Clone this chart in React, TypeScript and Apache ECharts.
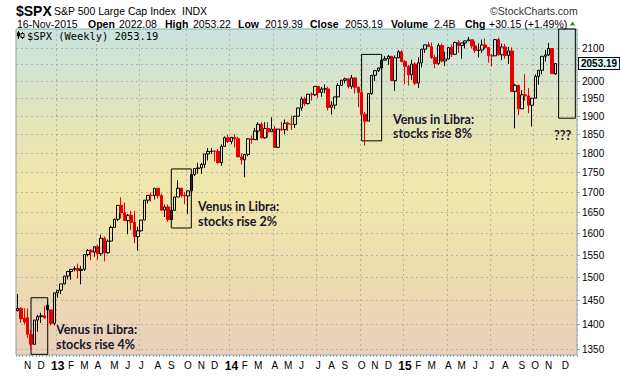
import React, { useEffect, useRef } from "react";
import * as echarts from "echarts";

const WEEKS: string[] = [
  "2012-10-15","2012-10-22","2012-10-29","2012-11-05","2012-11-12","2012-11-19","2012-11-26","2012-12-03","2012-12-10","2012-12-17","2012-12-24","2012-12-31",
  "2013-01-07","2013-01-14","2013-01-21","2013-01-28","2013-02-04","2013-02-11","2013-02-18","2013-02-25","2013-03-04","2013-03-11","2013-03-18","2013-03-25",
  "2013-04-01","2013-04-08","2013-04-15","2013-04-22","2013-04-29","2013-05-06","2013-05-13","2013-05-20","2013-05-27","2013-06-03","2013-06-10","2013-06-17",
  "2013-06-24","2013-07-01","2013-07-08","2013-07-15","2013-07-22","2013-07-29","2013-08-05","2013-08-12","2013-08-19","2013-08-26","2013-09-02","2013-09-09",
  "2013-09-16","2013-09-23","2013-09-30","2013-10-07","2013-10-14","2013-10-21","2013-10-28","2013-11-04","2013-11-11","2013-11-18","2013-11-25","2013-12-02",
  "2013-12-09","2013-12-16","2013-12-23","2013-12-30",
  "2014-01-06","2014-01-13","2014-01-20","2014-01-27","2014-02-03","2014-02-10","2014-02-17","2014-02-24","2014-03-03","2014-03-10","2014-03-17","2014-03-24",
  "2014-03-31","2014-04-07","2014-04-14","2014-04-21","2014-04-28","2014-05-05","2014-05-12","2014-05-19","2014-05-26","2014-06-02","2014-06-09","2014-06-16",
  "2014-06-23","2014-06-30","2014-07-07","2014-07-14","2014-07-21","2014-07-28","2014-08-04","2014-08-11","2014-08-18","2014-08-25","2014-09-01","2014-09-08",
  "2014-09-15","2014-09-22","2014-09-29","2014-10-06","2014-10-13","2014-10-20","2014-10-27","2014-11-03","2014-11-10","2014-11-17","2014-11-24","2014-12-01",
  "2014-12-08","2014-12-15","2014-12-22","2014-12-29",
  "2015-01-05","2015-01-12","2015-01-19","2015-01-26","2015-02-02","2015-02-09","2015-02-16","2015-02-23","2015-03-02","2015-03-09","2015-03-16","2015-03-23",
  "2015-03-30","2015-04-06","2015-04-13","2015-04-20","2015-04-27","2015-05-04","2015-05-11","2015-05-18","2015-05-25","2015-06-01","2015-06-08","2015-06-15",
  "2015-06-22","2015-06-29","2015-07-06","2015-07-13","2015-07-20","2015-07-27","2015-08-03","2015-08-10","2015-08-17","2015-08-24","2015-08-31","2015-09-07",
  "2015-09-14","2015-09-21","2015-09-28","2015-10-05","2015-10-12","2015-10-19","2015-10-26","2015-11-02","2015-11-09","2015-11-16",
  "2015-11-23","2015-11-30","2015-12-07","2015-12-14","2015-12-21","2015-12-28",
];

const OPEN: number[] = [
  1428.8,1433.7,1413.0,1414.0,1380.0,1359.9,1409.2,1416.3,1418.1,1440.0,1430.2,1402.4,
  1466.5,1472.1,1485.9,1503.0,1513.2,1517.9,1519.8,1515.6,1518.2,1551.2,1560.7,1556.9,
  1569.2,1553.3,1588.9,1555.3,1582.2,1614.4,1633.7,1667.5,1649.6,1630.7,1643.4,1626.7,
  1592.4,1606.3,1631.9,1680.2,1692.1,1691.7,1709.7,1691.4,1655.8,1663.5,1633.0,1655.2,
  1688.0,1709.9,1691.8,1690.5,1703.2,1744.5,1759.8,1761.6,1770.6,1798.2,1804.8,1806.0,
  1805.1,1775.3,1818.3,1841.4,
  1831.4,1842.4,1838.7,1790.3,1782.6,1797.0,1838.6,1836.3,1859.5,1878.0,1841.1,1866.5,
  1857.6,1865.1,1815.7,1864.9,1863.4,1881.1,1878.5,1877.9,1900.5,1923.6,1949.4,1936.2,
  1962.9,1961.0,1985.4,1967.6,1978.2,1978.3,1925.2,1931.6,1955.1,1988.4,2003.4,2007.7,
  1985.5,2010.4,1982.9,1967.9,1906.1,1886.8,1964.6,2018.1,2031.9,2039.8,2063.5,2067.6,
  2075.4,2002.3,2070.7,2088.8,
  2058.9,2044.8,2019.4,2051.8,1995.0,2055.5,2097.0,2110.3,2104.5,2071.3,2053.4,2108.1,
  2061.0,2067.0,2102.1,2081.2,2117.7,2108.3,2116.1,2122.7,2126.1,2107.4,2092.8,2094.1,
  2110.0,2101.5,2076.8,2076.6,2126.6,2079.7,2103.8,2077.6,2091.5,1970.9,1988.9,1921.2,
  1961.1,1958.0,1931.3,1951.4,2014.9,2033.1,2075.2,2079.4,2099.2,2022.08,
];

const HIGH: number[] = [
  1464.0,1435.5,1434.0,1433.4,1388.8,1409.2,1420.0,1424.4,1438.6,1448.0,1430.7,1466.5,
  1472.3,1486.0,1503.3,1514.4,1518.3,1524.7,1530.9,1525.8,1552.5,1563.6,1564.0,1570.3,
  1573.7,1597.4,1593.0,1585.9,1618.5,1635.0,1667.5,1687.2,1674.2,1646.5,1654.2,1654.2,
  1615.9,1632.1,1680.2,1693.1,1698.8,1709.7,1709.7,1696.8,1669.5,1669.5,1663.9,1689.0,
  1729.9,1711.3,1700.0,1704.0,1745.3,1759.8,1775.2,1774.5,1798.2,1813.6,1813.6,1806.5,
  1811.0,1823.8,1844.9,1849.4,
  1843.2,1850.8,1844.0,1800.0,1798.0,1840.0,1847.5,1867.9,1883.6,1883.6,1884.0,1884.0,
  1897.3,1873.0,1865.0,1884.9,1891.3,1885.1,1902.2,1901.3,1924.0,1955.6,1955.6,1963.9,
  1968.2,1985.6,1985.6,1983.9,1991.4,1984.6,1942.9,1955.2,1994.8,2005.0,2011.2,2008.0,
  2019.3,2010.7,1985.2,1977.4,1912.1,1965.0,2018.2,2034.3,2041.3,2071.5,2075.8,2079.5,
  2075.8,2077.9,2094.0,2093.6,
  2064.4,2049.3,2064.6,2057.6,2072.4,2097.0,2110.6,2119.6,2117.5,2079.5,2114.9,2114.9,
  2089.0,2102.6,2111.9,2120.9,2125.9,2117.0,2124.0,2134.7,2126.2,2121.9,2115.0,2126.6,
  2129.9,2103.0,2081.9,2129.0,2132.8,2114.2,2112.7,2103.6,2102.5,1993.5,1989.0,1975.0,
  2021.0,1980.8,1951.8,2020.9,2033.5,2075.2,2094.3,2116.5,2099.2,2053.22,
];

const LOW: number[] = [
  1427.2,1403.3,1400.0,1373.0,1350.0,1359.9,1385.4,1403.3,1411.9,1413.0,1398.1,1398.1,
  1456.1,1463.8,1485.0,1495.7,1495.0,1513.5,1497.3,1485.0,1514.6,1547.0,1538.6,1546.2,
  1539.5,1548.6,1536.0,1553.3,1581.3,1614.4,1629.3,1635.5,1630.0,1598.2,1608.1,1577.7,
  1560.3,1605.0,1631.9,1672.2,1676.0,1681.9,1684.9,1654.4,1639.2,1627.5,1633.0,1655.2,
  1688.0,1687.1,1670.4,1646.5,1692.1,1740.5,1746.2,1746.2,1761.6,1781.0,1798.0,1779.1,
  1772.3,1767.0,1818.3,1827.7,
  1823.7,1815.5,1790.3,1770.5,1737.9,1792.0,1825.0,1836.3,1834.4,1839.6,1839.0,1842.0,
  1857.6,1814.4,1814.0,1859.0,1850.6,1859.8,1862.4,1868.1,1900.5,1915.6,1929.7,1933.1,
  1944.7,1958.2,1952.9,1955.6,1965.8,1916.4,1904.8,1920.1,1955.1,1988.4,1994.3,1979.8,
  1978.5,1965.0,1926.0,1906.1,1820.7,1886.8,1961.3,2001.0,2028.0,2034.0,2063.0,2049.6,
  2002.3,1972.6,2069.2,2057.9,
  1992.4,1988.1,2004.5,1989.2,1980.9,2041.6,2085.4,2103.8,2067.2,2039.7,2049.0,2055.8,
  2045.8,2066.0,2073.0,2081.2,2085.7,2067.9,2099.2,2122.0,2099.2,2085.7,2072.1,2085.7,
  2097.0,2056.2,2044.0,2076.6,2077.0,2063.5,2067.9,2052.1,1970.9,1867.0,1903.1,1921.2,
  1944.6,1908.8,1871.9,1951.4,1990.7,2021.0,2059.3,2076.0,2022.0,2019.39,
];

const CLOSE: number[] = [
  1433.2,1411.9,1405.0,1380.0,1359.9,1409.2,1416.2,1418.1,1413.6,1430.2,1402.4,1466.5,
  1472.1,1485.9,1503.0,1513.2,1517.9,1519.8,1515.6,1518.2,1551.2,1560.7,1556.9,1569.2,
  1553.3,1588.9,1555.3,1582.2,1614.4,1633.7,1667.5,1649.6,1630.7,1643.4,1626.7,1592.4,
  1606.3,1631.9,1680.2,1692.1,1691.7,1709.7,1691.4,1655.8,1663.5,1633.0,1655.2,1688.0,
  1709.9,1691.8,1690.5,1703.2,1744.5,1759.8,1761.6,1770.6,1798.2,1804.8,1806.0,1805.1,
  1775.3,1818.3,1841.4,1831.4,
  1842.4,1838.7,1790.3,1782.6,1797.0,1838.6,1836.3,1859.5,1878.0,1841.1,1866.5,1857.6,
  1865.1,1815.7,1864.9,1863.4,1881.1,1878.5,1877.9,1900.5,1923.6,1949.4,1936.2,1962.9,
  1961.0,1985.4,1967.6,1978.2,1978.3,1925.2,1931.6,1955.1,1988.4,2003.4,2007.7,1985.5,
  2010.4,1982.9,1967.9,1906.1,1886.8,1964.6,2018.1,2031.9,2039.8,2063.5,2067.6,2075.4,
  2002.3,2070.7,2088.8,2058.9,
  2044.8,2019.4,2051.8,1995.0,2055.5,2097.0,2110.3,2104.5,2071.3,2053.4,2108.1,2061.0,
  2067.0,2102.1,2081.2,2117.7,2108.3,2116.1,2122.7,2126.1,2107.4,2092.8,2094.1,2110.0,
  2101.5,2076.8,2076.6,2126.6,2079.7,2103.8,2077.6,2091.5,1970.9,1988.9,1921.2,1961.1,
  1958.0,1931.3,1951.4,2014.9,2033.1,2075.2,2079.4,2099.2,2023.0,2053.19,
];

const Y_GRID: number[] = [1350,1400,1450,1500,1550,1600,1650,1700,1750,1800,1850,1900,1950,2000,2050,2100];
const Y_LABELS: number[] = [1350,1400,1450,1500,1550,1600,1650,1700,1750,1800,1850,1900,1950,2000,2100];
const Y_MIN = 1338.7;
const Y_MAX = 2160;
const LAST_CLOSE = 2053.19;
const MONTH_LETTERS = ["J","F","M","A","M","J","J","A","S","O","N","D"];

// annotation boxes
const BOX_FROM = ["2012-11-12", "2013-09-02", "2014-10-06", "2015-11-23"];
const BOX_TO = ["2012-12-17", "2013-10-14", "2014-11-17", "2015-12-28"];
const BOX_LOW = [1340, 1613, 1833, 1895];
const BOX_HIGH: (number | null)[] = [1456, 1759, 2081, null];
const NOTE_TEXTS = ["Venus in Libra:\nstocks rise 4%", "Venus in Libra:\nstocks rise 2%", "Venus in Libra:\nstocks rise 8%", "???"];

const SANS = "'Liberation Sans', Arial, sans-serif";
const NOTE_FONT = "Lato, 'Open Sans', sans-serif";

const RED = "#e60000";
const BLACK = "#000000";
const HOLLOW = "rgba(0,0,0,0)";

function isMonthStart(v: string): boolean {
  return Number(v.slice(8, 10)) <= 7;
}
function isQuarterStart(v: string): boolean {
  const m = Number(v.slice(5, 7));
  return isMonthStart(v) && (m === 1 || m === 4 || m === 7 || m === 10);
}

export default function App() {
  const ref = useRef<HTMLDivElement>(null);
  useEffect(() => {
    if (!ref.current) return;
    const chart = echarts.init(ref.current, undefined, { renderer: "svg" });

    const candles = OPEN.map((o, i) => {
      const c = CLOSE[i];
      const prev = i > 0 ? CLOSE[i - 1] : o;
      const up = c >= o;
      const colorLine = c >= prev ? BLACK : RED;
      const fill = up ? HOLLOW : colorLine;
      return {
        value: [o, c, LOW[i], HIGH[i]],
        itemStyle: {
          color: fill, color0: fill,
          borderColor: colorLine, borderColor0: colorLine, borderColorDoji: colorLine,
        },
      };
    });

    const areas = BOX_FROM.map((f, i) => {
      const a: any = { xAxis: f, yAxis: BOX_LOW[i] };
      const b: any = { xAxis: BOX_TO[i] };
      if (BOX_HIGH[i] !== null) b.yAxis = BOX_HIGH[i];
      return [a, b];
    });

    const noteStyle = (text: string, x: number, y: number) => ({
      type: "text", x, y, silent: true,
      style: { text, font: `bold 12.5px ${NOTE_FONT}`, fill: "#15152a", lineHeight: 14.5 },
    });

    const header = (text: string, x: number, y: number, font: string, fill = "#000") => ({
      type: "text", x, y, silent: true,
      style: { text, font, fill, verticalAlign: "middle" },
    });

    const BOLD = `bold 10.5px ${SANS}`;
    const REG = `10.5px ${SANS}`;

    chart.setOption({
      animation: false,
      backgroundColor: "#ffffff",
      grid: {
        left: 16, right: 43, top: 29, bottom: 21,
        show: true,
        borderColor: "#8aa9b0", borderWidth: 1,
        backgroundColor: new echarts.graphic.LinearGradient(0, 0, 0, 1, [
          { offset: 0, color: "#c9e4df" },
          { offset: 0.28, color: "#e4e5ba" },
          { offset: 0.5, color: "#f1e7a9" },
          { offset: 0.75, color: "#efdcb0" },
          { offset: 1, color: "#ebcfba" },
        ]),
      },
      xAxis: {
        type: "category",
        data: WEEKS,
        boundaryGap: true,
        axisLine: { show: false },
        axisTick: { show: true, interval: 0, length: 2, lineStyle: { color: "#8aa9b0" } },
        axisLabel: {
          interval: (_i: number, v: string) => isMonthStart(v),
          margin: 5,
          color: "#000",
          fontFamily: SANS,
          fontSize: 10,
          formatter: (v: string) => {
            const m = Number(v.slice(5, 7));
            if (m === 1) return `{yr|${v.slice(2, 4)}}`;
            return MONTH_LETTERS[m - 1];
          },
          rich: { yr: { fontWeight: "bold", fontSize: 12, fontFamily: SANS, color: "#000" } },
        },
        splitLine: {
          show: true,
          interval: (_i: number, v: string) => isQuarterStart(v),
          lineStyle: { color: "#b3b3aa", type: [2, 3], width: 1 },
        },
      },
      yAxis: {
        type: "log",
        logBase: 10,
        position: "right",
        min: Y_MIN,
        max: Y_MAX,
        axisLine: { show: false },
        axisTick: { show: true, customValues: Y_GRID, length: 3, lineStyle: { color: "#8aa9b0" } },
        axisLabel: {
          customValues: Y_LABELS,
          margin: 5,
          color: "#000",
          fontFamily: SANS,
          fontSize: 10,
          formatter: (v: number) => String(Math.round(v)),
        },
        splitLine: { show: true, customValues: Y_GRID, lineStyle: { color: "#b3b3aa", type: [2, 3], width: 1 } },
      },
      series: [
        {
          name: "$SPX (Weekly) 2053.19",
          type: "candlestick",
          data: candles,
          barWidth: 3,
          itemStyle: { borderWidth: 1 },
          markArea: {
            silent: true,
            itemStyle: { color: "rgba(0,0,0,0)", borderColor: "#000", borderWidth: 1 },
            data: areas,
          },
          markLine: {
            silent: true,
            symbol: ["none", "none"],
            lineStyle: { color: "rgba(0,0,0,0)", width: 0 },
            label: {
              show: true,
              position: "end",
              distance: 2,
              formatter: LAST_CLOSE.toFixed(2),
              backgroundColor: "#e2fbfb",
              borderColor: "#000",
              borderWidth: 1,
              padding: [1, 2, 0, 2],
              color: "#000",
              fontWeight: "bold",
              fontFamily: SANS,
              fontSize: 10,
            },
            data: [{ yAxis: LAST_CLOSE }],
          },
        },
      ],
      graphic: [
        header("$SPX", 16, 10.5, `bold 14px ${SANS}`),
        header("S&P 500 Large Cap Index", 54, 11, REG),
        header("INDX", 182, 11, REG),
        header("\u00A9StockCharts.com", 490, 11, `10.5px ${SANS}`, "#333"),
        header("16-Nov-2015", 17, 24, REG),
        header("Open", 88, 24, BOLD),
        header("2022.08", 119, 24, REG),
        header("High", 165, 24, BOLD),
        header("2053.22", 193, 24, REG),
        header("Low", 238, 24, BOLD),
        header("2019.39", 265, 24, REG),
        header("Close", 310, 24, BOLD),
        header("2053.19", 345, 24, REG),
        header("Volume", 391, 24, BOLD),
        header("2.4B", 434, 24, REG),
        header("Chg", 465, 24, BOLD),
        header("+30.15 (+1.49%)", 489, 24, REG),
        { type: "polygon", silent: true, shape: { points: [[569.5, 25.5], [575.5, 25.5], [572.5, 21.5]] }, style: { fill: "#2a9a3a" } },
        // legend
        { type: "line", silent: true, shape: { x1: 18.5, y1: 31, x2: 18.5, y2: 39 }, style: { stroke: "#000", lineWidth: 1 } },
        { type: "rect", silent: true, shape: { x: 17, y: 32.5, width: 3, height: 4 }, style: { fill: "#000" } },
        { type: "line", silent: true, shape: { x1: 22.5, y1: 32, x2: 22.5, y2: 39 }, style: { stroke: "#000", lineWidth: 1 } },
        { type: "rect", silent: true, shape: { x: 21, y: 33.5, width: 3, height: 4 }, style: { fill: "#fff", stroke: "#000", lineWidth: 1 } },
        header("$SPX (Weekly) 2053.19", 27, 35.5, `10.4px 'DejaVu Sans Mono', monospace`),
        // notes
        noteStyle(NOTE_TEXTS[0], 56, 322.5),
        noteStyle(NOTE_TEXTS[1], 198, 199.5),
        noteStyle(NOTE_TEXTS[2], 393, 112),
        noteStyle(NOTE_TEXTS[3], 554, 128),
      ],
    });
    return () => chart.dispose();
  }, []);
  return <div ref={ref} style={{ position: "fixed", left: 0, top: 0, width: 620, height: 376 }} />;
}
